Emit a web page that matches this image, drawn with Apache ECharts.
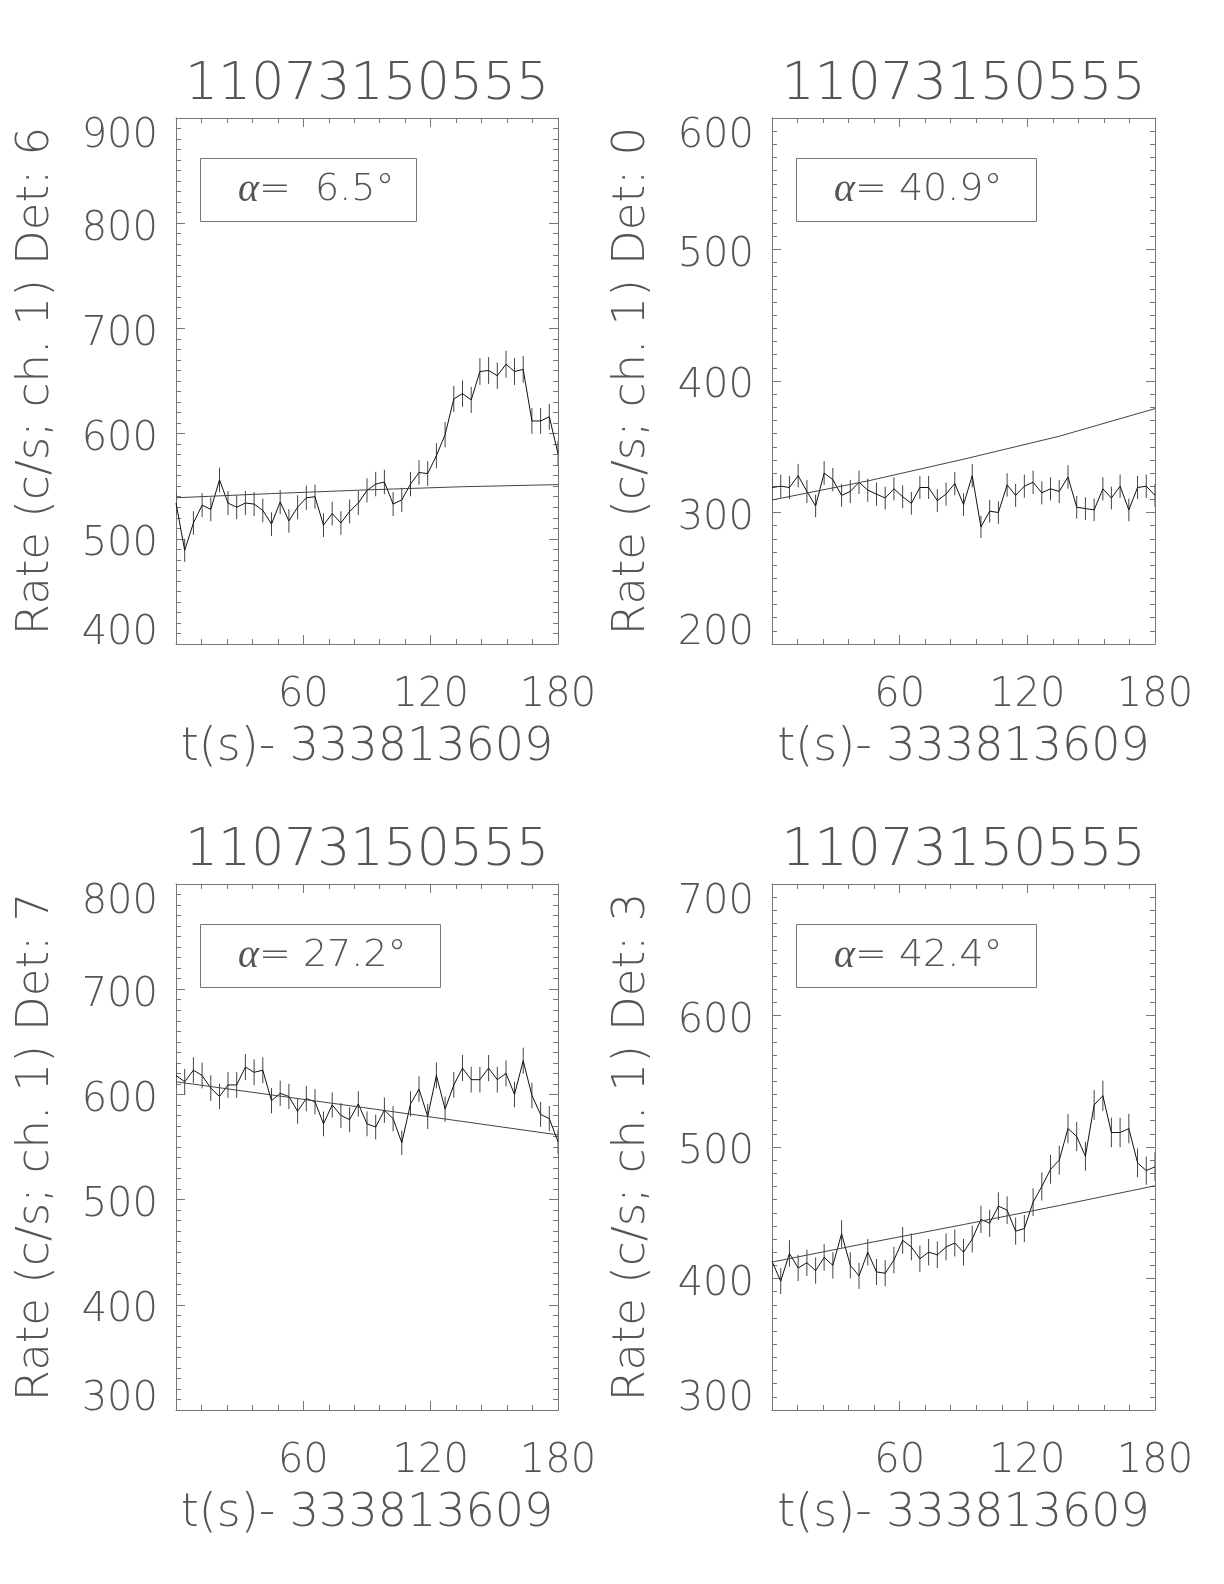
<!DOCTYPE html>
<html><head><meta charset="utf-8">
<script src="https://cdn.jsdelivr.net/npm/echarts@6/dist/echarts.min.js"></script>
<style>html,body{margin:0;padding:0;background:#fff}#c{width:1224px;height:1584px}</style>
</head><body><div id="c"></div>
<script>
// ---- data ----
const times = [0, 4.1, 8.2, 12.3, 16.4, 20.5, 24.5, 28.6, 32.7, 36.8, 40.9, 45.0, 49.1, 53.2, 57.3, 61.4, 65.5, 69.5, 73.6, 77.7, 81.8, 85.9, 90.0, 94.1, 98.2, 102.3, 106.4, 110.5, 114.5, 118.6, 122.7, 126.8, 130.9, 135.0, 139.1, 143.2, 147.3, 151.4, 155.5, 159.5, 163.6, 167.7, 171.8, 175.9, 180.0];

const rate1 = [534, 489, 515, 532, 528, 556, 534, 530, 534, 533, 527, 514, 535, 517, 530, 539, 540, 513, 524, 515, 526, 534, 546, 552, 554, 533, 537, 552, 563, 562, 579, 599, 633, 638, 632, 659, 660, 655, 666, 659, 661, 612, 612, 616, 581];
const err1 = [11.4, 10.9, 11.2, 11.4, 11.4, 11.6, 11.4, 11.4, 11.4, 11.4, 11.3, 11.2, 11.4, 11.2, 11.4, 11.5, 11.5, 11.2, 11.3, 11.2, 11.3, 11.4, 11.5, 11.6, 11.6, 11.4, 11.5, 11.6, 11.7, 11.7, 11.9, 12.1, 12.4, 12.5, 12.4, 12.7, 12.7, 12.6, 12.8, 12.7, 12.7, 12.2, 12.2, 12.3, 11.9];

const rate2 = [319, 320, 319, 328, 316, 305, 330, 325, 313, 316, 323, 317, 314, 311, 318, 312, 307, 319, 319, 309, 314, 322, 306, 328, 289, 301, 300, 321, 313, 320, 323, 315, 318, 316, 327, 304, 303, 302, 318, 311, 320, 302, 319, 320, 313];
const err2 = [8.8, 8.8, 8.8, 8.9, 8.8, 8.6, 9.0, 8.9, 8.7, 8.8, 8.9, 8.8, 8.8, 8.7, 8.8, 8.7, 8.7, 8.8, 8.8, 8.7, 8.8, 8.9, 8.6, 8.9, 8.4, 8.6, 8.6, 8.9, 8.7, 8.8, 8.9, 8.8, 8.8, 8.8, 8.9, 8.6, 8.6, 8.6, 8.8, 8.7, 8.8, 8.6, 8.8, 8.8, 8.7];

const rate3 = [618, 612, 623, 618, 606, 598, 609, 609, 626, 621, 623, 594, 601, 598, 584, 596, 593, 572, 590, 580, 576, 591, 572, 569, 585, 577, 554, 591, 605, 579, 618, 586, 609, 625, 614, 614, 625, 614, 620, 600, 632, 599, 581, 577, 555];
const err3 = [12.3, 12.2, 12.3, 12.3, 12.2, 12.1, 12.2, 12.2, 12.4, 12.3, 12.3, 12.0, 12.1, 12.1, 11.9, 12.1, 12.0, 11.8, 12.0, 11.9, 11.9, 12.0, 11.8, 11.8, 12.0, 11.9, 11.6, 12.0, 12.2, 11.9, 12.3, 12.0, 12.2, 12.4, 12.2, 12.2, 12.4, 12.2, 12.3, 12.1, 12.4, 12.1, 11.9, 11.9, 11.6];

const rate4 = [413, 398, 419, 408, 412, 406, 416, 410, 434, 410, 402, 420, 405, 404, 414, 429, 424, 415, 420, 418, 424, 427, 420, 430, 445, 442, 455, 452, 436, 438, 458, 470, 483, 490, 514, 508, 493, 532, 539, 511, 511, 514, 488, 482, 485];
const err4 = [10.0, 9.9, 10.1, 10.0, 10.0, 10.0, 10.1, 10.0, 10.3, 10.0, 9.9, 10.1, 9.9, 9.9, 10.1, 10.2, 10.2, 10.1, 10.1, 10.1, 10.2, 10.2, 10.1, 10.2, 10.4, 10.4, 10.5, 10.5, 10.3, 10.3, 10.6, 10.7, 10.9, 10.9, 11.2, 11.1, 11.0, 11.4, 11.5, 11.2, 11.2, 11.2, 10.9, 10.8, 10.9];

const modelT = [0, 45, 90, 135, 180];
const model1 = [539, 543, 546.5, 549.5, 551.5];
const model2 = [309.5, 324, 340.5, 358, 379];
const model3 = [612, 599.5, 587, 574.3, 561.5];
const model4 = [412.5, 427, 441, 455.5, 470.5];

const panelTitles = ['11073150555', '11073150555', '11073150555', '11073150555'];
const yNames = ['Rate (c/s; ch. 1) Det: 6', 'Rate (c/s; ch. 1) Det: 0', 'Rate (c/s; ch. 1) Det: 7', 'Rate (c/s; ch. 1) Det: 3'];
const alphaTexts = [' 6.5', '40.9', '27.2', '42.4'];
const yMins = [400, 200, 300, 300];
const yMaxs = [900, 600, 800, 700];
const xMin = 0, xMax = 180, xStep = 60, yStep = 100;
const xName = 't(s)- 333813609';

// ---- layout / style ----
const FONT = "'DejaVu Sans'";
const TXT = '#555';
const AX = '#777';
const grids = [
  {left: 176, top: 118, width: 382, height: 526},
  {left: 772, top: 118, width: 383, height: 526},
  {left: 176, top: 884, width: 382, height: 526},
  {left: 772, top: 884, width: 383, height: 526}
];
const boxRightPad = [22, 34, 34, 34];
const rates = [rate1, rate2, rate3, rate4];
const errs = [err1, err2, err3, err4];
const models = [model1, model2, model3, model4];

const option = {
  animation: false,
  backgroundColor: '#fff',
  grid: grids,
  title: [],
  xAxis: [], yAxis: [], series: []
};

const baseText = {fontFamily: FONT, fontWeight: 200, color: TXT};

grids.forEach((g, k) => {
  const tickCommon = {
    axisLine: {show: true, onZero: false, lineStyle: {color: AX, width: 1}},
    axisTick: {show: true, inside: true, length: 9, lineStyle: {color: AX}},
    splitLine: {show: false}, minorSplitLine: {show: false}
  };
  // bottom x
  option.xAxis.push(Object.assign({
    type: 'value', gridIndex: k, position: 'bottom', min: xMin, max: xMax, interval: xStep,
    name: xName, nameLocation: 'middle', nameGap: 81,
    nameTextStyle: Object.assign({fontSize: 46}, baseText),
    axisLabel: Object.assign({show: true, showMinLabel: false, margin: 32, fontSize: 40}, baseText),
  }, tickCommon, {minorTick: {show: true, splitNumber: 5, length: 5, lineStyle: {color: AX}}}));
  // top x (panel title as axis name)
  option.xAxis.push(Object.assign({
    type: 'value', gridIndex: k, position: 'top', min: xMin, max: xMax, interval: xStep,
    name: panelTitles[k], nameLocation: 'middle', nameGap: 7,
    nameTextStyle: Object.assign({fontSize: 52}, baseText),
    axisLabel: {show: false}
  }, tickCommon, {minorTick: {show: true, splitNumber: 5, length: 5, lineStyle: {color: AX}}}));
  const yMin = yMins[k], yMax = yMaxs[k];
  // left y
  option.yAxis.push(Object.assign({
    type: 'value', gridIndex: k, position: 'left', min: yMin, max: yMax, interval: yStep,
    name: yNames[k], nameLocation: 'middle', nameRotate: 90, nameGap: 117,
    nameTextStyle: Object.assign({fontSize: 45}, baseText),
    axisLabel: Object.assign({
      show: true, margin: 18, fontSize: 40,
      formatter: v => v === yMax ? '{t|' + v + '}' : (v === yMin ? '{b|' + v + '}' : '{m|' + v + '}'),
      rich: {
        t: Object.assign({fontSize: 40, padding: [38, 0, 0, 0]}, baseText),
        b: Object.assign({fontSize: 40, padding: [0, 0, 20, 0]}, baseText),
        m: Object.assign({fontSize: 40, padding: [12, 0, 0, 0]}, baseText)
      }
    }, baseText)
  }, tickCommon, {minorTick: {show: true, splitNumber: 10, length: 5, lineStyle: {color: AX}}}));
  // right y
  option.yAxis.push(Object.assign({
    type: 'value', gridIndex: k, position: 'right', min: yMin, max: yMax, interval: yStep,
    axisLabel: {show: false}
  }, tickCommon, {minorTick: {show: true, splitNumber: 10, length: 5, lineStyle: {color: AX}}}));

  const xi = 2 * k, yi = 2 * k;
  // error bars
  option.series.push({
    type: 'custom', xAxisIndex: xi, yAxisIndex: yi, clip: true,
    data: times.map((t, i) => [t, rates[k][i], errs[k][i]]),
    encode: {x: 0, y: 1},
    renderItem: (params, api) => {
      const x = api.value(0), y = api.value(1), e = api.value(2);
      const p1 = api.coord([x, y - e]);
      const p2 = api.coord([x, y + e]);
      return {type: 'line', shape: {x1: p1[0], y1: p1[1], x2: p2[0], y2: p2[1]},
              style: {stroke: '#444', lineWidth: 1}};
    }
  });
  // data line
  option.series.push({
    type: 'line', xAxisIndex: xi, yAxisIndex: yi, showSymbol: false, symbol: 'none',
    clip: true,
    data: times.map((t, i) => [t, rates[k][i]]),
    lineStyle: {color: '#111', width: 1}
  });
  // model
  option.series.push({
    type: 'line', xAxisIndex: xi, yAxisIndex: yi, showSymbol: false, symbol: 'none',
    smooth: false, clip: true,
    data: modelT.map((t, i) => [t, models[k][i]]),
    lineStyle: {color: '#444', width: 1}
  });
  // alpha box
  option.title.push({
    text: '{a|α}= ' + alphaTexts[k] + '°',
    left: g.left + 24, top: g.top + 40,
    padding: [12, boxRightPad[k], 12, 38],
    borderColor: AX, borderWidth: 1,
    textStyle: Object.assign({fontSize: 38, rich: {
      a: {fontSize: 40, fontFamily: "'Liberation Serif'", fontStyle: 'italic', fontWeight: 'normal', color: TXT}
    }}, baseText)
  });
});

const chart = echarts.init(document.getElementById('c'), null, {renderer: 'canvas'});
chart.setOption(option);
</script>
</body></html>
